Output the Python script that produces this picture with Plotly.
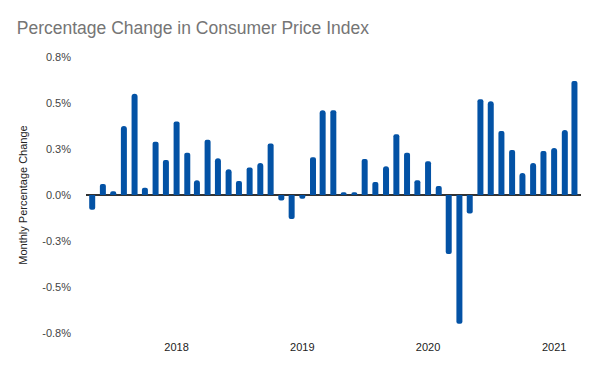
import plotly.graph_objects as go
import pandas as pd

# Monthly CPI percentage change, May 2017 - Mar 2021 (values in %)
months = pd.date_range("2017-05-01", periods=47, freq="MS")
cpi_change = [
    -0.08, 0.06, 0.02, 0.375, 0.55, 0.04, 0.29, 0.19,          # 2017 May-Dec
    0.40, 0.23, 0.08, 0.30, 0.20, 0.14, 0.076, 0.15, 0.174, 0.28, -0.03, -0.13,  # 2018
    -0.02, 0.205, 0.46, 0.46, 0.015, 0.015, 0.196, 0.07, 0.156, 0.33, 0.23, 0.08,  # 2019
    0.183, 0.049, -0.32, -0.70, -0.10, 0.52, 0.51, 0.348, 0.245, 0.12, 0.174, 0.239,  # 2020
    0.255, 0.353, 0.62,                                          # 2021 Jan-Mar
]

y_tick_vals = [-0.75, -0.5, -0.25, 0, 0.25, 0.5, 0.75]
y_tick_labels = ["-0.8%", "-0.5%", "-0.3%", "0.0%", "0.3%", "0.5%", "0.8%"]
x_tick_vals = ["2018-01-01", "2019-01-01", "2020-01-01", "2021-01-01"]
x_tick_labels = ["2018", "2019", "2020", "2021"]

bar_width_ms = 17.4 * 86400000

fig = go.Figure(
    go.Bar(
        x=months,
        y=cpi_change,
        width=bar_width_ms,
        marker=dict(color="#0352a5", cornerradius=3, line=dict(width=0)),
        hovertemplate="%{x|%b %Y}: %{y:.2f}%<extra></extra>",
    )
)

fig.update_layout(
    width=600,
    height=371,
    margin=dict(l=86, r=19, t=57, b=38),
    paper_bgcolor="white",
    plot_bgcolor="white",
    font=dict(family="Liberation Sans, Arial, sans-serif", size=11, color="#444444"),
    title=dict(
        text="Percentage Change in Consumer Price Index",
        font=dict(size=17.5, color="#757575"),
        xref="container", x=0.028, xanchor="left",
        yref="container", y=0.925, yanchor="middle",
    ),
    showlegend=False,
    xaxis=dict(
        type="date",
        range=["2017-04-13", "2021-03-20"],
        tickvals=x_tick_vals,
        ticktext=x_tick_labels,
        showgrid=False,
        zeroline=False,
        showline=False,
        ticks="",
        ticklabelstandoff=6,
        tickfont=dict(size=11, color="#222222"),
    ),
    yaxis=dict(
        range=[-0.75, 0.75],
        tickvals=y_tick_vals,
        ticktext=y_tick_labels,
        showgrid=False,
        zeroline=True,
        zerolinecolor="#333333",
        zerolinewidth=1.5,
        showline=False,
        ticks="",
        ticklabelstandoff=14,
        tickfont=dict(size=11, color="#444444"),
        title=dict(text="Monthly Percentage Change", standoff=12,
                   font=dict(size=11, color="#222222")),
    ),
)

fig.write_html(
    "out.html",
    config={"displayModeBar": False},
    post_script="document.body.style.margin='0px';",
)
